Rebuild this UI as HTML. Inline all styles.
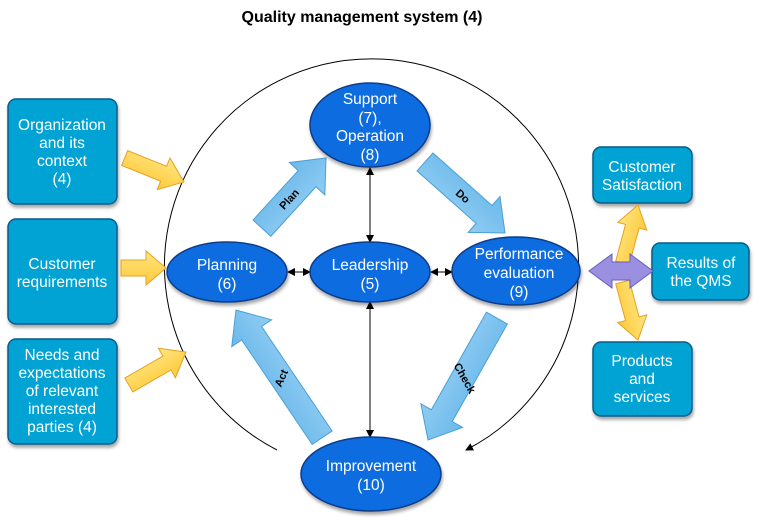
<!DOCTYPE html>
<html><head><meta charset="utf-8"><style>
body{margin:0;background:#fff}
svg{display:block}
text{font-family:"Liberation Sans",sans-serif}
</style></head><body>
<svg width="757" height="527" viewBox="0 0 757 527" xmlns="http://www.w3.org/2000/svg">
<defs>
<marker id="ah" markerWidth="8" markerHeight="8" refX="7" refY="4" orient="auto-start-reverse" markerUnits="userSpaceOnUse"><path d="M0,0 L8,4 L0,8 z" fill="#000"/></marker>
<linearGradient id="bl" x1="0" y1="0" x2="0" y2="1"><stop offset="0" stop-color="#6cb8ea"/><stop offset="1" stop-color="#8fcdf3"/></linearGradient>
<linearGradient id="yl" x1="0" y1="0" x2="0" y2="1"><stop offset="0" stop-color="#ffe680"/><stop offset="1" stop-color="#ffc93a"/></linearGradient>
<filter id="sh" x="-20%" y="-20%" width="140%" height="150%"><feDropShadow dx="1" dy="3" stdDeviation="1.5" flood-opacity="0.35"/></filter>
</defs>
<text x="362" y="22" font-size="16" font-weight="bold" text-anchor="middle">Quality management system (4)</text>

<path d="M277,450 A207,207 0 1 1 466,450" fill="none" stroke="#000" stroke-width="1" marker-end="url(#ah)"/>

<g fill="#00a3d3" stroke="#0a5a8a" stroke-width="1.5" filter="url(#sh)">
<rect x="8" y="99" width="109" height="105" rx="8"/>
<rect x="8" y="219" width="109" height="105" rx="8"/>
<rect x="8" y="339" width="109" height="105" rx="8"/>
<rect x="593" y="147" width="99" height="56" rx="8"/>
<rect x="652" y="243" width="97" height="57" rx="8"/>
<rect x="593" y="342" width="99" height="74" rx="8"/>
</g>
<g fill="#fff" font-size="15.5" text-anchor="middle">
<text x="62" y="130">Organization</text><text x="62" y="148">and its</text><text x="62" y="166">context</text><text x="62" y="184">(4)</text>
<text x="62" y="269">Customer</text><text x="62" y="287">requirements</text>
<text x="62" y="360">Needs and</text><text x="62" y="378">expectations</text><text x="62" y="396">of relevant</text><text x="62" y="414">interested</text><text x="62" y="432">parties (4)</text>
<text x="642" y="172">Customer</text><text x="642" y="190">Satisfaction</text>
<text x="701" y="268">Results of</text><text x="701" y="286">the QMS</text>
<text x="642" y="366">Products</text><text x="642" y="384">and</text><text x="642" y="402">services</text>
</g>

<g fill="url(#yl)" stroke="#e8a020" stroke-width="1">
<polygon points="-64,-8 -22,-8 -22,-17 0,0 -22,17 -22,8 -64,8" transform="translate(184,182) rotate(22)"/>
<polygon points="-45,-8 -20,-8 -20,-17 0,0 -20,17 -20,8 -45,8" transform="translate(166,268)"/>
<polygon points="-66,-8 -22,-8 -22,-17 0,0 -22,17 -22,8 -66,8" transform="translate(186,352) rotate(-30)"/>
<polygon points="-60,-7 -22,-7 -22,-15 0,0 -22,15 -22,7 -60,7" transform="translate(638,205) rotate(-75)"/>
<polygon points="-60,-7 -22,-7 -22,-15 0,0 -22,15 -22,7 -60,7" transform="translate(638,340) rotate(75)"/>
</g>
<polygon points="589,271 612,254 612,262 630,262 630,254 653,271 630,288 630,280 612,280 612,288" fill="#9a8fe0" stroke="#6a5fb8" stroke-width="1"/>

<g fill="url(#bl)" stroke="#4a9fd8" stroke-width="1">
<polygon points="-95,-12 -28,-12 -28,-24 0,0 -28,24 -28,12 -95,12" transform="translate(326,158) rotate(-47.6)"/>
<polygon points="-107,-12 -28,-12 -28,-24 0,0 -28,24 -28,12 -107,12" transform="translate(505,233) rotate(41.6)"/>
<polygon points="-140,-12 -28,-12 -28,-24 0,0 -28,24 -28,12 -140,12" transform="translate(428,440) rotate(119.5)"/>
<polygon points="-154,-12 -28,-12 -28,-24 0,0 -28,24 -28,12 -154,12" transform="translate(236,310) rotate(-124)"/>
</g>
<g font-size="11" font-weight="bold" fill="#000" text-anchor="middle">
<text transform="translate(289,199) rotate(-47.6)" y="4">Plan</text>
<text transform="translate(463,196) rotate(41.6)" y="4">Do</text>
<text transform="translate(465,378) rotate(60.5)" y="4">Check</text>
<text transform="translate(281,378) rotate(-66)" y="4">Act</text>
</g>

<g stroke="#000" stroke-width="1" marker-start="url(#ah)" marker-end="url(#ah)">
<line x1="370" y1="168" x2="370" y2="242"/>
<line x1="370" y1="302" x2="370" y2="437"/>
<line x1="288" y1="272" x2="310" y2="272"/>
<line x1="431" y1="272" x2="452" y2="272"/>
</g>

<g fill="#0a6de0" stroke="#0a3d8a" stroke-width="1.5" filter="url(#sh)">
<ellipse cx="370" cy="125" rx="60" ry="42"/>
<ellipse cx="227" cy="272" rx="60" ry="30"/>
<ellipse cx="370" cy="272" rx="60" ry="30"/>
<ellipse cx="516" cy="271" rx="64" ry="34"/>
<ellipse cx="371" cy="474" rx="70" ry="37"/>
</g>
<g fill="#fff" font-size="15.5" text-anchor="middle">
<text x="370" y="104">Support</text><text x="370" y="123">(7),</text><text x="370" y="141">Operation</text><text x="370" y="160">(8)</text>
<text x="227" y="270">Planning</text><text x="227" y="289">(6)</text>
<text x="370" y="270">Leadership</text><text x="370" y="289">(5)</text>
<text x="519" y="259">Performance</text><text x="519" y="278">evaluation</text><text x="519" y="297">(9)</text>
<text x="371" y="471">Improvement</text><text x="371" y="490">(10)</text>
</g>
</svg>
</body></html>
